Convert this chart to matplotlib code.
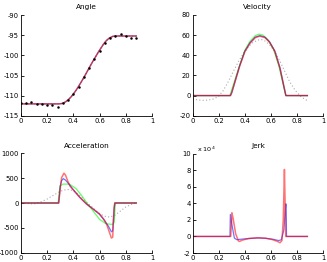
import matplotlib
matplotlib.use("Agg")
import matplotlib.pyplot as plt

# ---------------- data ----------------
ang_meas_t = [0.00, 0.04, 0.08, 0.12, 0.16, 0.20, 0.24, 0.28, 0.32, 0.36, 0.40, 0.44,
              0.48, 0.52, 0.56, 0.60, 0.64, 0.68, 0.72, 0.76, 0.80, 0.84, 0.88]
ang_meas = [-111.8, -111.9, -111.5, -112.1, -112.1, -112.3, -112.3, -112.7, -111.9, -111.1,
            -109.6, -107.7, -105.4, -103.0, -100.9, -98.9, -97.0, -95.8, -95.2, -94.7,
            -95.3, -95.6, -95.7]
ang_fit_t = [0.00, 0.29, 0.31, 0.325, 0.34, 0.36, 0.38, 0.40, 0.42, 0.44, 0.46, 0.48, 0.50,
             0.52, 0.54, 0.555, 0.57, 0.59, 0.61, 0.63, 0.65, 0.67, 0.69, 0.70, 0.715, 0.88]
ang_fit = [-112.0, -112.0, -111.92, -111.76, -111.5, -111.0, -110.35, -109.55, -108.65,
           -107.64, -106.57, -105.45, -104.3, -103.1, -101.95, -101.1, -100.3, -99.2,
           -98.2, -97.2, -96.4, -95.8, -95.45, -95.3, -95.2, -95.2]

vel_red_t = [0.00, 0.29, 0.30, 0.325, 0.36, 0.40, 0.44, 0.48, 0.515, 0.555, 0.59, 0.63, 0.67, 0.70, 0.715, 0.88]
vel_red = [0, 0, 3, 13.8, 29, 43.5, 52, 57.5, 59, 57.5, 53, 44, 27, 9, 0, 0]
vel_blue_t = [0.00, 0.29, 0.30, 0.325, 0.36, 0.40, 0.44, 0.48, 0.515, 0.555, 0.59, 0.63, 0.67, 0.70, 0.715, 0.88]
vel_blue = [0, 0, 3, 14, 29.5, 44, 52.5, 58, 59.5, 58, 53.3, 44.3, 27.5, 9, 0, 0]
vel_green_t = [0.00, 0.285, 0.30, 0.32, 0.36, 0.40, 0.44, 0.48, 0.51, 0.54, 0.58, 0.62, 0.66, 0.70, 0.715, 0.88]
vel_green = [0, 0, 6, 14, 30, 45, 54, 59.5, 61, 60, 55, 46, 30, 8, 0, 0]
vel_gray_t = [0.00, 0.05, 0.094, 0.15, 0.196, 0.235, 0.273, 0.31, 0.35, 0.39, 0.427, 0.465, 0.504,
              0.53, 0.555, 0.59, 0.631, 0.67, 0.708, 0.745, 0.785, 0.825, 0.862, 0.88]
vel_gray = [-3.5, -4.5, -4.8, -3.8, -1.1, 5, 13.8, 23.5, 33.6, 42, 48.5, 53, 55.2, 55.5, 54.2,
            50.5, 43.6, 34, 23.7, 13.5, 5.5, -0.5, -3.8, -5]

acc_red_t = [0.00, 0.288, 0.30, 0.31, 0.328, 0.34, 0.36, 0.374, 0.40, 0.45, 0.50, 0.55, 0.60,
             0.63, 0.654, 0.675, 0.69, 0.70, 0.71, 0.716, 0.88]
acc_red = [0, 0, 300, 510, 600, 560, 420, 342, 260, 110, -20, -120, -220, -320, -430, -590,
           -705, -690, -94, 0, 0]
acc_blue_t = [0.00, 0.288, 0.30, 0.31, 0.323, 0.34, 0.36, 0.40, 0.45, 0.50, 0.55, 0.60, 0.64,
              0.67, 0.69, 0.70, 0.71, 0.716, 0.88]
acc_blue = [0, 0, 350, 450, 490, 460, 400, 265, 110, -20, -120, -230, -360, -480, -580, -560,
            -150, 0, 0]
acc_green_t = [0.00, 0.283, 0.298, 0.32, 0.37, 0.42, 0.46, 0.50, 0.55, 0.60, 0.65, 0.70, 0.712, 0.72, 0.88]
acc_green = [0, 0, 340, 380, 380, 290, 160, 10, -160, -330, -420, -430, -380, 0, 0]
acc_gray_t = [0.00, 0.10, 0.15, 0.20, 0.25, 0.30, 0.35, 0.40, 0.45, 0.50, 0.55, 0.60, 0.65,
              0.68, 0.72, 0.76, 0.80, 0.85, 0.88]
acc_gray = [0, -20, 20, 80, 160, 235, 275, 250, 150, 20, -100, -220, -275, -282, -240, -160,
            -80, -20, 0]

jerk_red_t = [0.00, 0.292, 0.301, 0.31, 0.33, 0.352, 0.36, 0.38, 0.43, 0.50, 0.56, 0.607,
              0.65, 0.67, 0.685, 0.695, 0.704, 0.708, 0.714, 0.88]
jerk_red = [0, 0, 2.86, 2.2, 0.3, -0.56, -0.6, -0.45, -0.25, -0.16, -0.22, -0.36, -0.6,
            -0.76, -0.5, 2.0, 8.1, 5.0, 0, 0]
jerk_blue_t = [0.00, 0.286, 0.289, 0.30, 0.32, 0.34, 0.36, 0.43, 0.50, 0.56, 0.62, 0.66,
               0.68, 0.70, 0.714, 0.717, 0.72, 0.88]
jerk_blue = [0, 0, 2.66, 1.5, -0.2, -0.4, -0.35, -0.25, -0.18, -0.22, -0.35, -0.5, -0.4,
             0.8, 3.95, 3.9, 0, 0]

x_ticks = [0, 0.2, 0.4, 0.6, 0.8, 1]
x_labels = ["0", "0.2", "0.4", "0.6", "0.8", "1"]

# ---------------- figure ----------------
W, H = 327, 262
fig = plt.figure(figsize=(W / 100, H / 100), dpi=100)
fs = 4.9
RED = dict(color="#ff0000", alpha=0.55, lw=1.1)
BLUE = dict(color="#0000ff", alpha=0.55, lw=0.9)
GREEN = dict(color="#00ff00", alpha=0.6, lw=0.9)
GRAY = dict(color="#aaaaaa", ls=(0, (1, 2)), lw=0.8)


def make_ax(x0, x1, ytop, ybot, ylim, yticks, title):
    ax = fig.add_axes([x0 / W, 1 - ybot / H, (x1 - x0) / W, (ybot - ytop) / H])
    ax.set_xlim(0, 1)
    ax.set_ylim(*ylim)
    ax.set_xticks(x_ticks)
    ax.set_xticklabels(x_labels)
    ax.set_yticks(yticks)
    ax.set_yticklabels([("-" + str(abs(v))) if v < 0 else str(v) for v in yticks])
    for s in ("top", "right"):
        ax.spines[s].set_visible(False)
    for s in ("left", "bottom"):
        ax.spines[s].set_linewidth(0.6)
    ax.tick_params(direction="in", length=2, width=0.6, labelsize=fs, pad=1.5)
    ax.set_title(title, fontsize=fs + 0.4, pad=4)
    return ax


ax1 = make_ax(21, 152, 15, 116, (-115, -90), [-115, -110, -105, -100, -95, -90], "Angle")
ax1.plot(ang_fit_t, ang_fit, **GREEN, ls=":")
ax1.plot(ang_fit_t, ang_fit, **BLUE)
ax1.plot(ang_fit_t, ang_fit, **RED)
ax1.plot(ang_meas_t, ang_meas, ".", color="black", ms=1.6)

ax2 = make_ax(192.7, 323, 15, 115.7, (-20, 80), [-20, 0, 20, 40, 60, 80], "Velocity")
ax2.plot(vel_gray_t, vel_gray, **GRAY)
ax2.plot(vel_green_t, vel_green, **GREEN)
ax2.plot(vel_blue_t, vel_blue, **BLUE)
ax2.plot(vel_red_t, vel_red, **RED)

ax3 = make_ax(21, 152, 153.3, 252.7, (-1000, 1000), [-1000, -500, 0, 500, 1000], "Acceleration")
ax3.plot(acc_gray_t, acc_gray, **GRAY)
ax3.plot(acc_green_t, acc_green, **GREEN)
ax3.plot(acc_blue_t, acc_blue, **BLUE)
ax3.plot(acc_red_t, acc_red, **RED)

ax4 = make_ax(192.7, 323, 153.7, 253, (-2, 10), [-2, 0, 2, 4, 6, 8, 10], "Jerk")
ax4.plot(jerk_blue_t, jerk_blue, **BLUE)
ax4.plot(jerk_red_t, jerk_red, **RED)
ax4.text(0.0, 1.0, "  x 10$^4$", transform=ax4.transAxes, fontsize=fs - 0.3,
         ha="left", va="bottom")

fig.savefig("out.png", dpi=100)
